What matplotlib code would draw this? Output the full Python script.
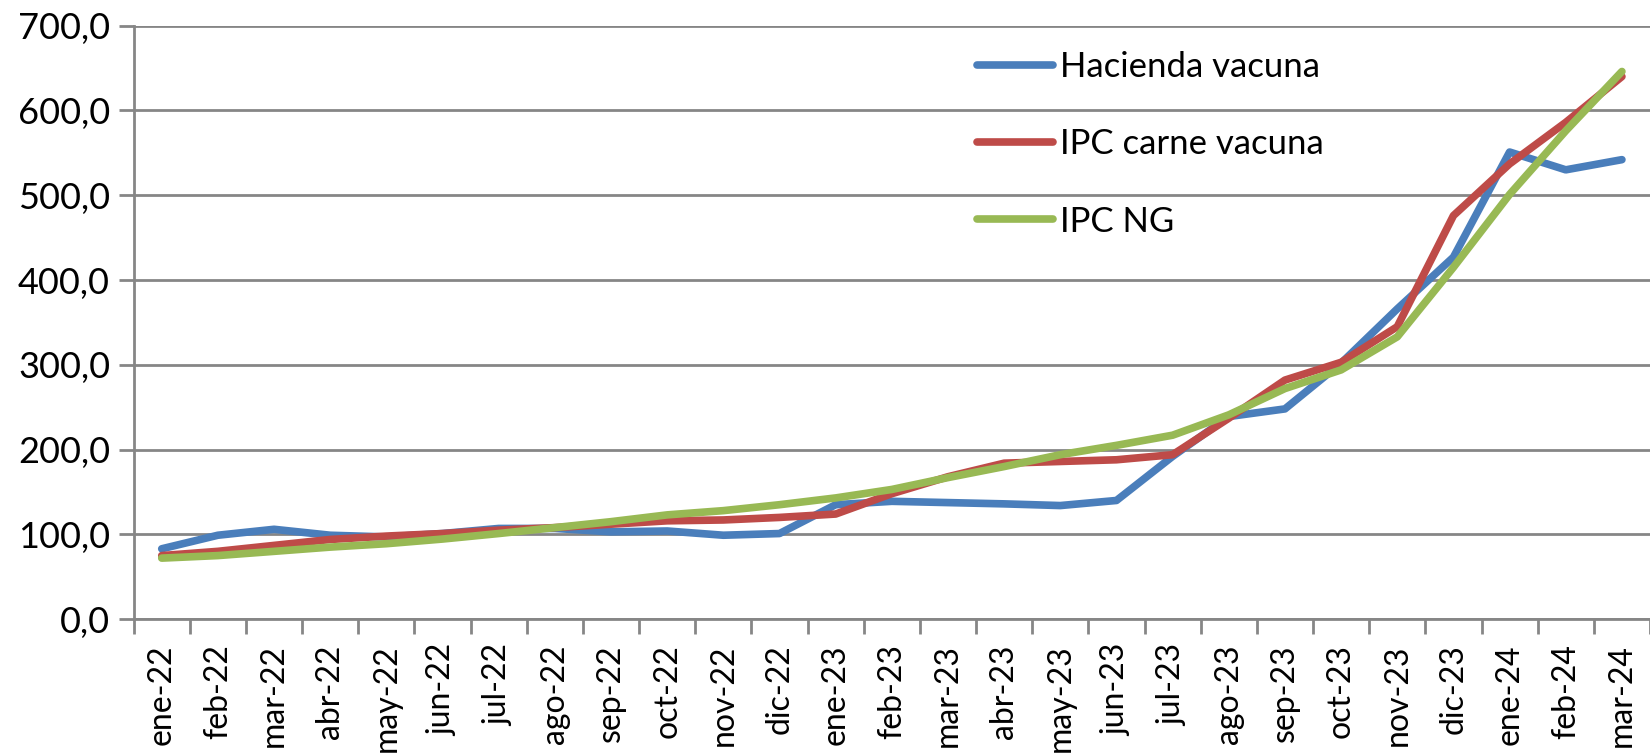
import numpy as np
import matplotlib.pyplot as plt

# months shown on the x axis
meses = ['ene-22', 'feb-22', 'mar-22', 'abr-22', 'may-22', 'jun-22', 'jul-22',
         'ago-22', 'sep-22', 'oct-22', 'nov-22', 'dic-22', 'ene-23', 'feb-23',
         'mar-23', 'abr-23', 'may-23', 'jun-23', 'jul-23', 'ago-23', 'sep-23',
         'oct-23', 'nov-23', 'dic-23', 'ene-24', 'feb-24', 'mar-24']

# series values
hacienda = [83, 99, 106, 99, 97, 101, 107, 107, 103, 104, 99, 101, 135, 139,
            137.5, 136, 134, 140, 192, 239, 248, 302, 366, 427, 551, 530, 542]
ipc_carne = [75, 80, 87, 94, 98, 101, 105, 108, 112, 116, 117, 120, 124, 148,
             168, 184, 186, 188, 194, 237, 282, 303, 345, 476, 537, 586, 640]
ipc_ng = [72, 75, 80, 85, 89, 94.5, 101, 108, 115, 123, 128, 135, 143, 153,
          167, 180, 194, 205, 217, 241, 272, 294, 333, 415, 501, 576, 646]

plt.rcParams['font.family'] = ['Lato', 'DejaVu Sans']

fig = plt.figure(figsize=(16.5, 7.56), dpi=100)
ax = fig.add_axes([0.081, 0.181, 0.919, 0.785])

x = np.arange(len(meses))
ax.plot(x, hacienda, color='#4A7EBB', linewidth=5.5, label='Hacienda vacuna', solid_capstyle='round')
ax.plot(x, ipc_carne, color='#BE4B48', linewidth=5.5, label='IPC carne vacuna', solid_capstyle='round')
ax.plot(x, ipc_ng, color='#98B954', linewidth=5.5, label='IPC NG', solid_capstyle='round')

grid_col = '#868686'
ax.set_xlim(-0.5, len(meses) - 0.5)
ax.set_ylim(0, 700)
ax.set_yticks(np.arange(0, 701, 100))
ax.set_yticklabels([f'{v:.1f}'.replace('.', ',') for v in np.arange(0, 701, 100)])
ax.yaxis.grid(True, color=grid_col, linewidth=2)
ax.set_axisbelow(True)

# category labels at centres, tick marks between categories
ax.set_xticks(x)
ax.set_xticks(np.arange(-0.5, len(meses)), minor=True)
ax.set_xticklabels(meses, rotation=90, fontsize=23)
ax.tick_params(axis='x', which='major', length=0, pad=18)
ax.tick_params(axis='x', which='minor', length=11, width=2, color=grid_col)
ax.tick_params(axis='y', length=11, width=2, color=grid_col, pad=6, labelsize=26)

for s in ['top', 'right']:
    ax.spines[s].set_visible(False)
for s in ['left', 'bottom']:
    ax.spines[s].set_color(grid_col)
    ax.spines[s].set_linewidth(2)

ax.legend(loc='upper left', bbox_to_anchor=(0.556, 0.957), frameon=False,
          fontsize=25, handlelength=2.2, handletextpad=0.2, labelspacing=1.3,
          borderpad=0, borderaxespad=0)

fig.savefig('out.png', dpi=100)
